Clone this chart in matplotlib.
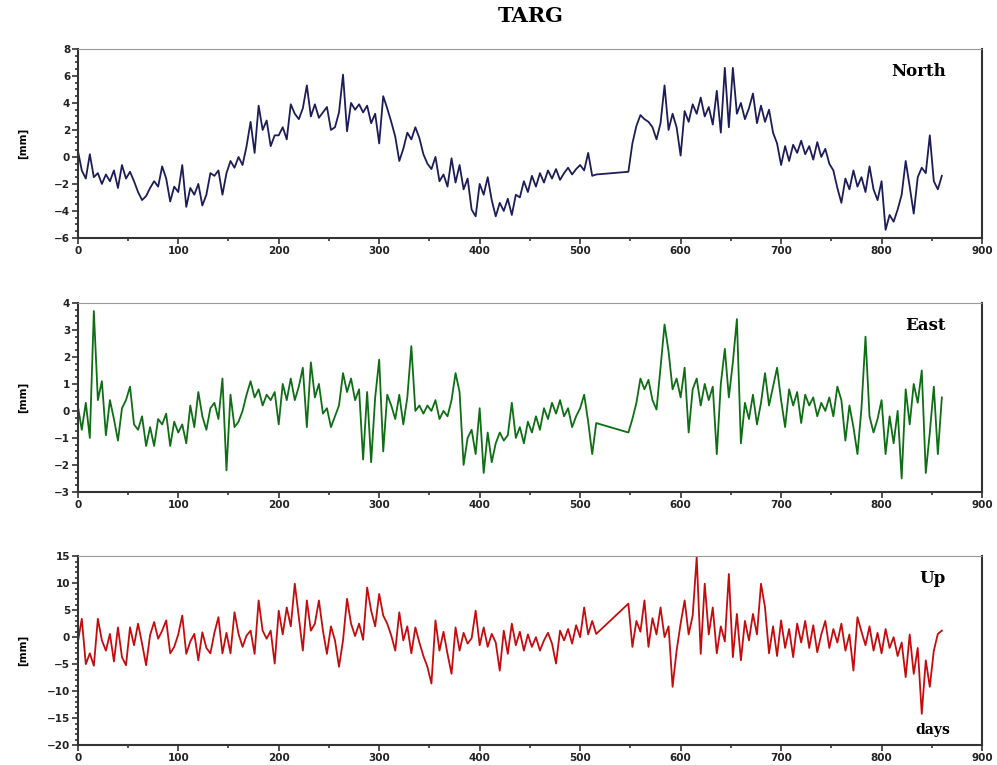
import matplotlib
matplotlib.use("Agg")
import matplotlib.pyplot as plt
from matplotlib.ticker import MultipleLocator, AutoMinorLocator

# sampling days (data gap between ~516 and ~548)
days_a = list(range(0, 517, 4))
days_b = list(range(548, 864, 4))

north_a = [0.5, -1.0, -1.6, 0.2, -1.5, -1.2, -2.0, -1.3, -1.8, -1.0, -2.3, -0.6, -1.6,
           -1.1, -1.8, -2.6, -3.2, -2.9, -2.3, -1.8, -2.2, -0.7, -1.6, -3.3, -2.2, -2.6,
           -0.6, -3.7, -2.3, -2.8, -2.0, -3.6, -2.8, -1.2, -1.4, -1.0, -2.8, -1.2, -0.3,
           -0.8, 0.0, -0.6, 0.8, 2.6, 0.3, 3.8, 2.0, 2.7, 0.8, 1.6, 1.6, 2.2, 1.3, 3.9,
           3.2, 2.8, 3.6, 5.3, 3.0, 3.9, 2.9, 3.3, 3.7, 2.0, 2.2, 3.3, 6.1, 1.9, 4.0, 3.5,
           3.9, 3.3, 3.8, 2.5, 3.2, 1.0, 4.5, 3.6, 2.6, 1.5, -0.3, 0.6, 1.8, 1.3, 2.2, 1.4,
           0.2, -0.5, -0.9, 0.0, -1.8, -1.3, -2.2, -0.1, -1.9, -0.6, -2.4, -1.6, -3.9, -4.4,
           -2.0, -2.8, -1.5, -3.2, -4.4, -3.4, -4.0, -3.1, -4.3, -2.8, -3.0, -1.8, -2.6,
           -1.4, -2.2, -1.2, -1.9, -1.0, -1.6, -0.9, -1.7, -1.2, -0.8, -1.3, -0.9, -0.6,
           -1.0, 0.3, -1.4, -1.3]
north_b = [-1.1, 1.0, 2.3, 3.1, 2.8, 2.6, 2.2, 1.3, 2.5, 5.3, 2.0, 3.2, 2.2, 0.1, 3.4,
           2.6, 3.9, 3.2, 4.4, 3.0, 3.7, 2.4, 4.9, 1.8, 6.6, 2.2, 6.6, 3.2, 4.0, 2.8, 3.6,
           4.7, 2.5, 3.8, 2.6, 3.5, 1.8, 1.0, -0.6, 0.8, -0.3, 0.9, 0.3, 1.2, 0.2, 0.8,
           -0.2, 1.1, 0.0, 0.6, -0.5, -1.0, -2.3, -3.4, -1.6, -2.4, -1.0, -2.2, -1.5, -2.6,
           -0.7, -2.4, -3.2, -1.8, -5.4, -4.3, -4.8, -3.9, -2.8, -0.3, -2.2, -4.2, -1.5,
           -0.8, -1.2, 1.6, -1.8, -2.4, -1.4]

east_a = [0.2, -0.7, 0.3, -1.0, 3.7, 0.4, 1.1, -0.9, 0.4, -0.3, -1.1, 0.1, 0.4, 0.9,
          -0.5, -0.7, -0.2, -1.3, -0.6, -1.3, -0.3, -0.5, -0.1, -1.3, -0.4, -0.8, -0.5,
          -1.2, 0.2, -0.6, 0.7, -0.2, -0.7, 0.1, 0.3, -0.3, 1.2, -2.2, 0.6, -0.6, -0.4,
          0.0, 0.6, 1.1, 0.5, 0.8, 0.2, 0.6, 0.4, 0.7, -0.5, 1.0, 0.4, 1.2, 0.4, 0.9, 1.6,
          -0.6, 1.8, 0.5, 1.0, -0.1, 0.1, -0.6, -0.2, 0.2, 1.4, 0.7, 1.2, 0.4, 0.8, -1.8,
          0.7, -1.9, 0.5, 1.9, -1.5, 0.6, 0.2, -0.3, 0.6, -0.5, 0.5, 2.4, 0.0, 0.2, -0.1,
          0.2, 0.0, 0.4, -0.3, 0.0, -0.2, 0.4, 1.4, 0.7, -2.0, -1.0, -0.7, -1.6, 0.1, -2.3,
          -0.8, -1.9, -1.2, -0.8, -1.1, -0.9, 0.3, -1.0, -0.6, -1.2, -0.4, -0.8, -0.2,
          -0.7, 0.1, -0.3, 0.3, -0.1, 0.4, -0.2, 0.1, -0.6, -0.2, 0.1, 0.6, -0.4, -1.6,
          -0.45]
east_b = [-0.8, -0.3, 0.3, 1.2, 0.8, 1.15, 0.4, 0.05, 1.6, 3.2, 2.2, 0.8, 1.2, 0.5, 1.6,
          -0.8, 0.8, 1.2, 0.2, 1.0, 0.4, 0.9, -1.6, 1.0, 2.3, 0.5, 1.8, 3.4, -1.2, 0.3,
          -0.3, 0.6, -0.5, 0.3, 1.4, 0.2, 0.9, 1.6, 0.4, -0.6, 0.8, 0.2, 0.7, -0.45, 0.6,
          0.2, 0.5, -0.2, 0.3, 0.0, 0.5, -0.2, 0.9, 0.4, -1.1, 0.2, -0.6, -1.6, 0.1, 2.75,
          -0.2, -0.8, -0.3, 0.4, -1.6, -0.2, -1.2, 0.0, -2.5, 0.8, -0.5, 1.0, 0.3, 1.5,
          -2.3, -0.8, 0.9, -1.6, 0.5]

up_a = [-1.0, 3.4, -5.0, -3.0, -5.3, 3.4, -0.6, -2.5, 0.6, -4.5, 1.8, -3.7, -5.2, 1.8,
        -1.5, 2.5, -1.2, -5.2, 0.4, 2.8, -0.3, 1.2, 3.1, -3.0, -1.8, 0.5, 4.0, -3.1, -0.8,
        0.6, -4.3, 0.9, -2.0, -3.0, 0.8, 3.7, -3.0, 0.8, -3.0, 4.6, 0.6, -1.8, 0.3, 1.2,
        -3.1, 6.8, 1.2, -0.3, 1.2, -4.9, 4.9, 0.5, 5.5, 2.0, 9.9, 3.7, -2.5, 6.8, 1.2,
        2.5, 6.8, 1.2, -3.1, 2.0, -0.6, -5.5, -0.6, 7.1, 2.5, 0.2, 2.5, -0.5, 9.2, 4.9,
        2.0, 8.0, 4.0, 2.5, 0.3, -2.5, 4.6, -0.6, 2.0, -3.0, 1.8, -1.0, -3.5, -5.5, -8.6,
        3.1, -2.5, 1.0, -3.1, -6.8, 1.8, -2.5, 0.8, -1.2, -0.2, 4.9, -1.5, 1.8, -1.8,
        0.6, -1.0, -6.2, 1.2, -3.1, 2.5, -1.5, 1.0, -2.5, 0.5, -1.8, 0.0, -2.5, -0.6,
        0.8, -1.2, -4.9, 1.2, -0.6, 1.5, -1.2, 2.2, 0.0, 5.5, 0.5, 3.0, 0.6]
up_b = [6.2, -1.8, 3.0, 1.0, 6.8, -1.8, 3.5, 0.5, 5.5, 0.0, 2.0, -9.2, -2.5, 2.5, 6.8,
        0.5, 4.0, 14.8, -3.1, 9.9, 0.5, 5.5, -3.0, 2.0, -0.8, 11.7, -3.7, 4.3, -4.3, 3.0,
        -0.6, 4.3, 0.5, 9.9, 5.5, -3.0, 2.0, -3.5, 3.1, -2.0, 1.5, -3.7, 2.5, -1.0, 3.0,
        -2.0, 2.2, -2.8, 0.5, 3.0, -2.0, 1.5, -1.0, 2.5, -2.5, 0.5, -6.2, 3.7, 1.0, -1.5,
        2.0, -2.5, 0.8, -3.0, 1.5, -2.0, 0.0, -3.5, -1.0, -7.4, 0.5, -6.8, -2.0, -14.2,
        -4.3, -9.2, -2.5, 0.6, 1.2]

panels = [
    ("North", north_a + north_b, "#1c1c58", (-6, 8), 2, 4),
    ("East", east_a + east_b, "#0d6e14", (-3, 4), 1, 4),
    ("Up", up_a + up_b, "#c40c0c", (-20, 15), 5, 5),
]
days = days_a + days_b
boxes = [(0.078, 0.689, 0.907, 0.247), (0.078, 0.357, 0.907, 0.247),
         (0.078, 0.026, 0.907, 0.247)]

fig = plt.figure(figsize=(9.97, 7.65), dpi=100)
fig.text(0.532, 0.979, "TARG", ha="center", va="center", fontsize=15,
         fontweight="bold", family="DejaVu Serif")

for (name, vals, col, ylim, major, nminor), box in zip(panels, boxes):
    ax = fig.add_axes(box)
    ax.plot(days, vals, color=col, lw=1.3)
    ax.set_xlim(0, 900)
    ax.set_ylim(*ylim)
    ax.xaxis.set_major_locator(MultipleLocator(100))
    ax.xaxis.set_minor_locator(MultipleLocator(50))
    ax.yaxis.set_major_locator(MultipleLocator(major))
    ax.yaxis.set_minor_locator(AutoMinorLocator(nminor))
    ax.tick_params(which="both", direction="out", labelsize=7.5, width=1.2, color="#333",
                   pad=1.5)
    ax.tick_params(which="major", length=4)
    ax.tick_params(which="minor", length=2.5)
    for lab in ax.get_xticklabels() + ax.get_yticklabels():
        lab.set_fontweight("bold")
        lab.set_color("#222")
    for s in ("left", "bottom", "right"):
        ax.spines[s].set_linewidth(1.5)
        ax.spines[s].set_color("#333")
    ax.spines["top"].set_color("#999")
    ax.spines["top"].set_linestyle((0, (1, 1)))
    ax.set_ylabel("[mm]", fontsize=7.5, fontweight="bold")
    ax.yaxis.set_label_coords(-0.055, 0.5)
    ax.text(0.96, 0.88, name, transform=ax.transAxes, ha="right", va="center",
            fontsize=12, fontweight="bold", family="DejaVu Serif")
    if name == "Up":
        ax.text(0.965, 0.08, "days", transform=ax.transAxes, ha="right",
                va="center", fontsize=10, fontweight="bold", family="DejaVu Serif")

fig.savefig("out.png", dpi=100)
